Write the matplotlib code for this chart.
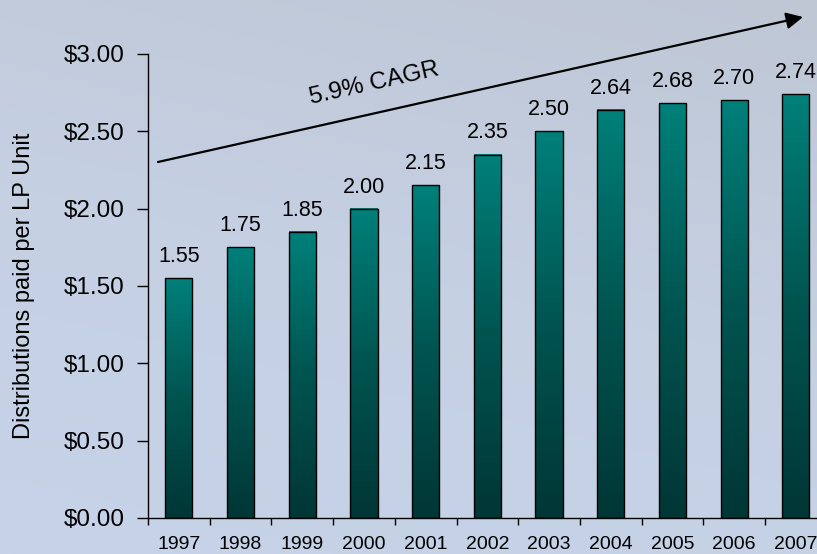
import numpy as np
import matplotlib.pyplot as plt
from matplotlib.colors import LinearSegmentedColormap
from matplotlib.ticker import FuncFormatter, FixedLocator

plt.rcParams['font.family'] = ['Liberation Sans', 'DejaVu Sans']

# data
years = ['1997', '1998', '1999', '2000', '2001', '2002', '2003', '2004', '2005', '2006', '2007']
distributions = [1.55, 1.75, 1.85, 2.00, 2.15, 2.35, 2.50, 2.64, 2.68, 2.70, 2.74]
y_ticks = [0.0, 0.5, 1.0, 1.5, 2.0, 2.5, 3.0]
cagr_label = '5.9% CAGR'
y_label = 'Distributions paid per LP Unit'

fig = plt.figure(figsize=(8.17, 5.54), dpi=100)

# background
bg_ax = fig.add_axes([0, 0, 1, 1], zorder=0)
bg_cmap = LinearSegmentedColormap.from_list('bg', ['#bfc7d5', '#c5d0e3', '#c6d3e8'])
yy = np.linspace(0, 1, 256).reshape(-1, 1)
xx = np.linspace(0, 1, 256).reshape(1, -1)
bg = 0.75 * yy + 0.25 * (1 - xx)
bg_ax.imshow(bg, cmap=bg_cmap, aspect='auto', extent=[0, 1, 0, 1], origin='upper')
bg_ax.axis('off')

ax = fig.add_axes([148 / 817, 36 / 554, 678.7 / 817, 464 / 554], zorder=1)
ax.set_facecolor('none')

x = np.arange(len(years))
bar_w = 0.44
bars = ax.bar(x, distributions, width=bar_w, color='none', edgecolor='black', linewidth=1.0, zorder=3)

# gradient fill per bar
bar_cmap = LinearSegmentedColormap.from_list('bar', ['#003636', '#005450', '#00807a'])
grad = np.linspace(0, 1, 256).reshape(-1, 1)
for b in bars:
    x0 = b.get_x()
    ax.imshow(grad, cmap=bar_cmap, aspect='auto', origin='lower',
              extent=[x0, x0 + b.get_width(), 0, b.get_height()], zorder=2)

for xi, v in zip(x, distributions):
    ax.annotate(f'{v:.2f}', (xi, v), xytext=(0, 8), textcoords='offset points',
                ha='center', va='bottom', fontsize=15.5)

ax.set_xlim(-0.5, len(years) - 0.5)
ax.set_ylim(0, 3.0)

# ticks at category boundaries, labels at centres
ax.xaxis.set_major_locator(FixedLocator(np.arange(-0.5, len(years), 1.0)))
ax.xaxis.set_major_formatter(FuncFormatter(lambda v, p: ''))
ax.xaxis.set_minor_locator(FixedLocator(x))
ax.set_xticklabels(years, minor=True)
ax.tick_params(axis='x', which='major', direction='out', length=5, width=1)
ax.tick_params(axis='x', which='minor', length=0, pad=13, labelsize=14)

ax.set_yticks(y_ticks)
ax.yaxis.set_major_formatter(FuncFormatter(lambda v, p: f'${v:.2f}'))
ax.tick_params(axis='y', direction='out', length=8, width=1, pad=9, labelsize=17.5)

for s in ['top', 'right']:
    ax.spines[s].set_visible(False)
ax.spines['left'].set_linewidth(1.0)
ax.spines['bottom'].set_linewidth(1.0)

ax.set_ylabel(y_label, fontsize=17)
ax.yaxis.label.set_verticalalignment('center')
ax.yaxis.set_label_coords(-0.183, 0.5)

# CAGR arrow
ax.annotate('', xy=(803 / 817, 1 - 17 / 554), xytext=(158 / 817, 1 - 162 / 554),
            xycoords='figure fraction', textcoords='figure fraction',
            arrowprops=dict(arrowstyle='-|>', lw=1.6, color='black', mutation_scale=25,
                            shrinkA=0, shrinkB=0), annotation_clip=False, zorder=5)
fig.text(374 / 817, 1 - 84 / 554, cagr_label, fontsize=17.5, rotation=12.7,
         ha='center', va='center', rotation_mode='anchor', zorder=5)

plt.savefig('out.png', dpi=100)
